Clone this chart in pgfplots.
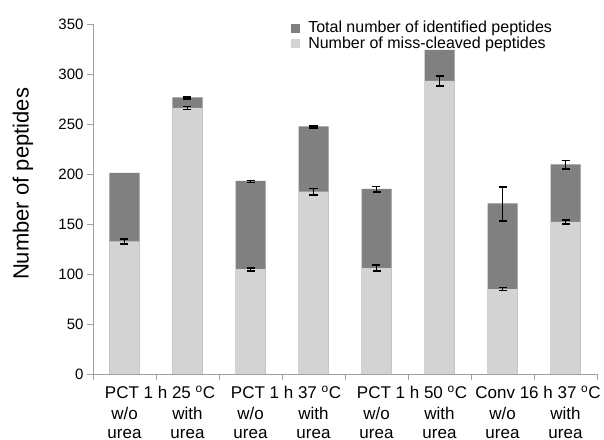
\documentclass[border=0pt]{standalone}
\usepackage{fontspec}
\setmainfont{Liberation Sans}
\usepackage{pgfplots}
\pgfplotsset{compat=1.18}
\usepackage{pgfplotstable}
\definecolor{darkbar}{HTML}{808080}
\definecolor{lightbar}{HTML}{D3D3D3}
\definecolor{axisgray}{HTML}{A0A0A0}
\newcommand{\grp}[1]{\begin{tabular}{@{}c@{}}\hspace*{8pt}#1\end{tabular}}
\newcommand{\sub}[1]{\begin{tabular}{@{}c@{}}\rule{0pt}{15pt}\\#1\\urea\end{tabular}}

\pgfplotstableread{
x total miss misserr
0 201 132.7 2.4
1 276.5 266 1.5
2 193 104.8 1.5
3 247.5 182.3 3.3
4 185 106 3.2
5 324 293 5
6 170.5 85 1.5
7 209.5 152.2 2
}\bardata

\pgfplotstableread{
x total totalerr
1 275.8 1
2 192.5 1
3 247 1
4 184.7 2.7
6 170 17
7 209 4.3
}\toterr

\begin{document}
\begin{tikzpicture}
\begin{axis}[name=ax,
  scale only axis, width=504pt, height=350pt,
  xmin=-0.5, xmax=7.5, ymin=0, ymax=350,
  axis x line*=bottom, axis y line*=left,
  axis line style={draw=axisgray, line width=0.8pt},
  tick align=outside, major tick length=6pt,
  tick style={draw=axisgray, line width=0.8pt},
  ytick={0,50,...,350},
  yticklabel style={font=\fontsize{15}{18}\selectfont},
  /pgf/number format/assume math mode=true,
  xtick={-0.5,0.5,...,7.5},
  xticklabels={,{\grp{PCT 1 h 25 \textsuperscript{o}C}},,{\grp{PCT 1 h 37 \textsuperscript{o}C}},,{\grp{PCT 1 h 50 \textsuperscript{o}C}},,{\grp{Conv 16 h 37 \textsuperscript{o}C}},},
  xticklabel style={font=\fontsize{17}{18.5}\selectfont, yshift=-2.5pt},
  extra x ticks={0,1,...,7},
  extra x tick labels={{\sub{w/o}},{\sub{with}},{\sub{w/o}},{\sub{with}},{\sub{w/o}},{\sub{with}},{\sub{w/o}},{\sub{with}}},
  extra x tick style={tick style={draw=none}},
  ylabel={Number of peptides},
  ylabel style={font=\fontsize{22}{24}\selectfont, at={([xshift=-70pt]axis description cs:0,0.543)}, anchor=center},
  legend style={draw=none, fill=none, at={(axis description cs:0.393,1.008)}, anchor=north west,
    font=\fontsize{16}{17}\selectfont, inner sep=0pt, row sep=0.5pt, column sep=8pt,
    nodes={inner sep=0pt, text height=11.5pt, text depth=3.5pt}},
  legend cell align=left,
  clip=false,
]
\addplot[ybar, bar width=30pt, bar shift=0pt, fill=darkbar, draw=none,
  legend image code/.code={\fill[darkbar] (0pt,-4pt) rectangle (9pt,5pt);}]
  table[x=x, y=total] {\bardata};
\addlegendentry{Total number of identified peptides}
\addplot[ybar, bar width=30pt, bar shift=0pt, fill=lightbar, draw=none,
  legend image code/.code={\fill[lightbar] (0pt,-4pt) rectangle (9pt,5pt);}]
  table[x=x, y=miss] {\bardata};
\addlegendentry{Number of miss-cleaved peptides}
\addplot[draw=none, mark=none, forget plot,
  error bars/.cd, y dir=both, y explicit,
  error bar style={black, line width=1.1pt},
  error mark options={black, rotate=90, line width=1.6pt, mark size=4pt}]
  table[x=x, y=total, y error=totalerr] {\toterr};
\addplot[draw=none, mark=none, forget plot,
  error bars/.cd, y dir=both, y explicit,
  error bar style={black, line width=1.1pt},
  error mark options={black, rotate=90, line width=1.6pt, mark size=4pt}]
  table[x=x, y=miss, y error=misserr] {\bardata};
\end{axis}
\pgfresetboundingbox
\path[use as bounding box] ([shift={(-93pt,-65pt)}]ax.south west) rectangle ([shift={(7pt,24pt)}]ax.north east);
\end{tikzpicture}
\end{document}
